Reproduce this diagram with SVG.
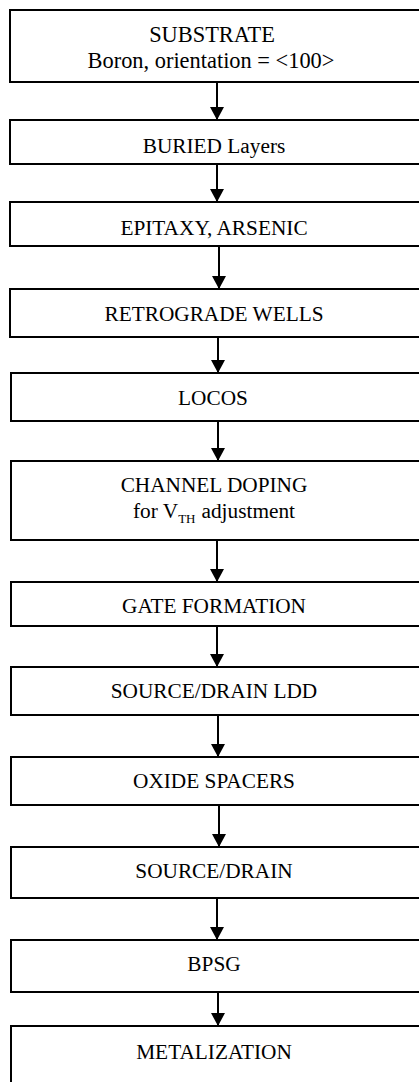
<svg xmlns="http://www.w3.org/2000/svg" width="419" height="1082" viewBox="0 0 419 1082">
  <style>
    .box { fill: #ffffff; stroke: #000000; stroke-width: 2; }
    .lbl { font-family: "Liberation Serif", "Times New Roman", serif; font-size: 21.3px; fill: #000000; text-anchor: middle; }
    .big { font-size: 22.4px; }
    .sub { font-size: 13px; }
    .link { stroke: #000000; stroke-width: 2; fill: none; marker-end: url(#head); }
  </style>
  <defs>
    <marker id="head" markerUnits="userSpaceOnUse" markerWidth="14" markerHeight="14" refX="13" refY="7" orient="auto">
      <path d="M0,0 L13,7 L0,14 Z" fill="#000000"/>
    </marker>
  </defs>
  <rect width="419" height="1082" fill="#ffffff"/>

  <!-- process step connectors -->
  <g id="connectors">
    <line class="link" x1="217" y1="82" x2="217" y2="120"/>
    <line class="link" x1="217" y1="164" x2="217" y2="202"/>
    <line class="link" x1="219" y1="246" x2="219" y2="289"/>
    <line class="link" x1="218" y1="337" x2="218" y2="373"/>
    <line class="link" x1="218" y1="421" x2="218" y2="461"/>
    <line class="link" x1="217" y1="540" x2="217" y2="582"/>
    <line class="link" x1="217" y1="626" x2="217" y2="667"/>
    <line class="link" x1="218" y1="715" x2="218" y2="757"/>
    <line class="link" x1="219" y1="805" x2="219" y2="847"/>
    <line class="link" x1="217" y1="898" x2="217" y2="940"/>
    <line class="link" x1="218" y1="992" x2="218" y2="1026"/>
  </g>

  <g id="substrate">
    <rect class="box" x="10" y="10" width="420" height="72"/>
    <text class="lbl big" x="212" y="42">SUBSTRATE</text>
    <text class="lbl big" x="211" y="68">Boron, orientation = &lt;100&gt;</text>
  </g>
  <g id="buried">
    <rect class="box" x="10" y="120" width="420" height="44"/>
    <text class="lbl" x="214" y="153">BURIED Layers</text>
  </g>
  <g id="epitaxy">
    <rect class="box" x="10" y="202" width="420" height="44"/>
    <text class="lbl" x="214" y="235">EPITAXY, ARSENIC</text>
  </g>
  <g id="wells">
    <rect class="box" x="10" y="289" width="420" height="48"/>
    <text class="lbl" x="214" y="321">RETROGRADE WELLS</text>
  </g>
  <g id="locos">
    <rect class="box" x="11" y="373" width="420" height="48"/>
    <text class="lbl" x="213" y="405">LOCOS</text>
  </g>
  <g id="channel">
    <rect class="box" x="11" y="461" width="420" height="79"/>
    <text class="lbl" x="214" y="492">CHANNEL DOPING</text>
    <text class="lbl" x="214" y="518">for V<tspan class="sub" dy="5">TH</tspan><tspan dx="6" dy="-5">adjustment</tspan></text>
  </g>
  <g id="gate">
    <rect class="box" x="11" y="582" width="420" height="44"/>
    <text class="lbl" x="214" y="613">GATE FORMATION</text>
  </g>
  <g id="ldd">
    <rect class="box" x="11" y="667" width="420" height="48"/>
    <text class="lbl" x="214" y="698">SOURCE/DRAIN LDD</text>
  </g>
  <g id="spacers">
    <rect class="box" x="11" y="757" width="420" height="48"/>
    <text class="lbl" x="214" y="788">OXIDE SPACERS</text>
  </g>
  <g id="source-drain">
    <rect class="box" x="11" y="847" width="420" height="51"/>
    <text class="lbl" x="214" y="878">SOURCE/DRAIN</text>
  </g>
  <g id="bpsg">
    <rect class="box" x="11" y="940" width="420" height="52"/>
    <text class="lbl" x="214" y="971">BPSG</text>
  </g>
  <g id="metalization">
    <rect class="box" x="11" y="1026" width="420" height="70"/>
    <text class="lbl" x="214" y="1059">METALIZATION</text>
  </g>
</svg>
